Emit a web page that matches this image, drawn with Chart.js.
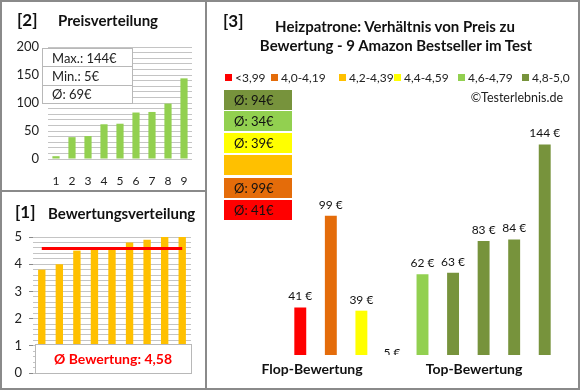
<!DOCTYPE html>
<html lang="de">
<head>
<meta charset="utf-8">
<title>Heizpatrone - Preis zu Bewertung</title>
<script src="https://cdn.jsdelivr.net/npm/chart.js@4/dist/chart.umd.min.js"></script>
<style>
    body { margin: 0; background: #fff; font-family: Lato, "Open Sans", sans-serif; }
    #frame { position: relative; width: 580px; height: 390px; overflow: hidden; }
    #frame canvas { position: absolute; }
    .txt { position: absolute; white-space: nowrap; color: #111; line-height: 1; }
    .box { position: absolute; box-sizing: border-box; }
</style>
</head>
<body>
<div id="frame">
    <canvas id="priceChart" width="203" height="188" style="left:2px;top:2px"></canvas>
    <canvas id="ratingChart" width="203" height="196" style="left:2px;top:192px"></canvas>
    <canvas id="mainChart" width="371" height="386" style="left:207px;top:2px"></canvas>
</div>
<script>
// Rating classes (legend) and their colours
const ratingClasses = ['<3,99', '4,0-4,19', '4,2-4,39', '4,4-4,59', '4,6-4,79', '4,8-5,0'];
const classColors = ['#FF0000', '#E46C0A', '#FFC000', '#FFFF00', '#92D050', '#77933C'];

// Products, ordered by rating (as in chart [3])
const prices = [41, 99, 39, 5, 62, 63, 83, 84, 144];
const ratings = [3.8, 4.0, 4.5, 4.6, 4.6, 4.8, 4.9, 5.0, 5.0];

// Axis settings
const priceTicks = [0, 50, 100, 150, 200];
const ratingTicks = [0, 1, 2, 3, 4, 5];
const mainMin = 11;
const mainMax = 150;

Chart.defaults.font.family = 'Lato, "Open Sans", sans-serif';
Chart.defaults.animation = false;
Chart.defaults.events = [];
Chart.defaults.plugins.legend.display = false;
Chart.defaults.plugins.tooltip.enabled = false;

const frame = document.getElementById('frame');

// Put a text label on the page (x/y = anchor point)
function addText(text, x, y, style, align) {
    const el = document.createElement('div');
    el.className = 'txt';
    el.textContent = text;
    Object.assign(el.style, style || {});
    el.style.left = x + 'px';
    el.style.top = y + 'px';
    const tx = align === 'center' ? '-50%' : align === 'right' ? '-100%' : '0';
    el.style.transform = `translate(${tx}, -50%)`;
    frame.appendChild(el);
    return el;
}

function addRect(x, y, w, h, style) {
    const el = document.createElement('div');
    el.className = 'box';
    Object.assign(el.style, { left: x + 'px', top: y + 'px', width: w + 'px', height: h + 'px' }, style || {});
    frame.appendChild(el);
    return el;
}

// Which rating class does a rating belong to
function classOf(r) {
    if (r < 4.0) return 0;
    if (r < 4.2) return 1;
    if (r < 4.4) return 2;
    if (r < 4.6) return 3;
    if (r < 4.8) return 4;
    return 5;
}

const isWhole = v => Math.abs(v - Math.round(v)) < 1e-6;

// ---------- frame lines ----------
function drawFrame() {
    addRect(0, 0, 580, 390, { border: '2px solid #8a8a8a' });
    addRect(205, 0, 2, 390, { background: '#8a8a8a' });
    addRect(0, 190, 206, 2, { background: '#8a8a8a' });
}

// ---------- [2] Preisverteilung ----------
function createPriceChart() {
    const sorted = [...prices].sort((a, b) => a - b);
    const labels = sorted.map((_, i) => String(i + 1));

    new Chart(document.getElementById('priceChart'), {
        type: 'bar',
        data: {
            labels: labels,
            datasets: [{
                data: sorted,
                backgroundColor: '#92D050',
                barPercentage: 0.45,
                categoryPercentage: 1
            }]
        },
        options: {
            responsive: false,
            layout: { padding: { top: 45, right: 13, left: 0, bottom: 0 } },
            scales: {
                x: {
                    grid: { display: false, drawTicks: false },
                    border: { display: false },
                    ticks: { padding: 15, color: '#222', font: { size: 12 } },
                    afterFit: s => { s.height = 31; }
                },
                y: {
                    min: priceTicks[0],
                    max: priceTicks[priceTicks.length - 1],
                    grid: { color: '#c4c4c4', drawTicks: false },
                    border: { display: false },
                    ticks: {
                        stepSize: 10,
                        autoSkip: false,
                        padding: 9,
                        color: '#222',
                        font: { size: 13 },
                        callback: v => priceTicks.includes(v) ? v : ''
                    },
                    afterFit: s => { s.width = 46; }
                }
            }
        }
    });

    // title and stats box
    addText('[2]', 17, 19, { fontWeight: 'bold', fontSize: '17px' });
    addText('Preisverteilung', 58, 20, { fontWeight: 'bold', fontSize: '15px' });

    const avg = Math.round(sorted.reduce((a, b) => a + b, 0) / sorted.length);
    addRect(42, 48, 91, 56, { background: '#fff', border: '1px solid #b8b8b8' });
    addRect(42, 66, 91, 1, { background: '#b8b8b8' });
    addRect(42, 85, 91, 1, { background: '#b8b8b8' });
    const st = { fontSize: '13px', color: '#222' };
    addText(`Max.: ${Math.max(...sorted)}€`, 52, 58, st);
    addText(`Min.: ${Math.min(...sorted)}€`, 52, 76, st);
    addText(`Ø: ${avg}€`, 52, 94, st);
}

// ---------- [1] Bewertungsverteilung ----------
function createRatingChart() {
    const sorted = [...ratings].sort((a, b) => a - b);
    const avg = sorted.reduce((a, b) => a + b, 0) / sorted.length;

    new Chart(document.getElementById('ratingChart'), {
        data: {
            labels: sorted.map((_, i) => String(i + 1)),
            datasets: [
                {
                    type: 'line',
                    data: sorted.map(() => avg),
                    borderColor: '#FF0000',
                    borderWidth: 3,
                    pointRadius: 0
                },
                {
                    type: 'bar',
                    data: sorted,
                    backgroundColor: '#FFC000',
                    barPercentage: 0.42,
                    categoryPercentage: 1
                }
            ]
        },
        options: {
            responsive: false,
            layout: { padding: { top: 45, right: 14, left: 0, bottom: 15 } },
            scales: {
                x: { display: false },
                y: {
                    min: ratingTicks[0],
                    max: ratingTicks[ratingTicks.length - 1],
                    grid: {
                        color: '#c4c4c4',
                        tickLength: 4,
                        tickColor: c => isWhole(c.tick.value) ? '#8a8a8a' : 'rgba(0,0,0,0)'
                    },
                    border: { display: false },
                    ticks: {
                        stepSize: 0.2,
                        autoSkip: false,
                        padding: 7,
                        color: '#222',
                        font: { size: 13 },
                        callback: v => isWhole(v) ? Math.round(v) : ''
                    },
                    afterFit: s => { s.width = 31; }
                }
            }
        }
    });

    addText('[1]', 15, 211, { fontWeight: 'bold', fontSize: '17px' });
    addText('Bewertungsverteilung', 48, 213, { fontWeight: 'bold', fontSize: '15px' });

    addRect(35, 344, 157, 30, { background: '#fff', border: '1px solid #b8b8b8' });
    addText('Ø Bewertung: ' + avg.toFixed(2).replace('.', ','), 113, 359,
        { fontWeight: 'bold', fontSize: '14px', color: '#FF0000' }, 'center');
}

// ---------- [3] Preis zu Bewertung ----------
const valueLabels = {
    id: 'valueLabels',
    afterDatasetsDraw(chart) {
        const { ctx, chartArea } = chart;
        const meta = chart.getDatasetMeta(0);
        ctx.save();
        ctx.beginPath();
        ctx.rect(chartArea.left - 20, 0, chartArea.right - chartArea.left + 40, chartArea.bottom);
        ctx.clip();
        ctx.font = '12px Lato, "Open Sans", sans-serif';
        ctx.fillStyle = '#111';
        ctx.textAlign = 'center';
        ctx.textBaseline = 'bottom';
        meta.data.forEach((bar, i) => {
            ctx.fillText(prices[i] + ' €', bar.x, bar.y - 5);
        });
        ctx.restore();
    }
};

function createMainChart() {
    const barColors = ratings.map(r => classColors[classOf(r)]);

    new Chart(document.getElementById('mainChart'), {
        type: 'bar',
        data: {
            labels: prices.map((_, i) => String(i + 1)),
            datasets: [{
                data: prices,
                backgroundColor: barColors,
                barPercentage: 0.39,
                categoryPercentage: 1
            }]
        },
        options: {
            responsive: false,
            layout: { padding: { top: 133, right: 18, left: 78, bottom: 33 } },
            scales: {
                x: { display: false },
                y: { display: false, min: mainMin, max: mainMax }
            }
        },
        plugins: [valueLabels]
    });

    addText('[3]', 223, 20, { fontWeight: 'bold', fontSize: '17px' });
    const tStyle = { fontWeight: 'bold', fontSize: '15px' };
    addText('Heizpatrone: Verhältnis von Preis zu', 395, 26, tStyle, 'center');
    addText('Bewertung - 9 Amazon Bestseller im Test', 396, 45, tStyle, 'center');

    // legend
    const legendX = [225, 271, 339, 394, 458, 522];
    ratingClasses.forEach((name, i) => {
        addRect(legendX[i], 74, 7, 7, { background: classColors[i] });
        addText(name, legendX[i] + 10, 78, { fontSize: '12px', color: '#222' });
    });
    addText('©Testerlebnis.de', 563, 98, { fontSize: '12.5px', color: '#222' }, 'right');

    // average price per rating class, best class on top
    const boxTops = [90, 111, 133, 155, 178, 200];
    for (let k = 0; k < classColors.length; k++) {
        const c = classColors.length - 1 - k;
        const inClass = prices.filter((_, i) => classOf(ratings[i]) === c);
        addRect(224, boxTops[k], 68, 20, { background: classColors[c] });
        if (inClass.length) {
            const avg = Math.round(inClass.reduce((a, b) => a + b, 0) / inClass.length);
            addText(`Ø: ${avg}€`, 234, boxTops[k] + 10, { fontSize: '13px', color: '#111' });
        }
    }

    addText('Flop-Bewertung', 312, 369, { fontWeight: 'bold', fontSize: '14px' }, 'center');
    addText('Top-Bewertung', 474, 369, { fontWeight: 'bold', fontSize: '14px' }, 'center');
}

drawFrame();
createPriceChart();
createRatingChart();
createMainChart();
</script>
</body>
</html>
